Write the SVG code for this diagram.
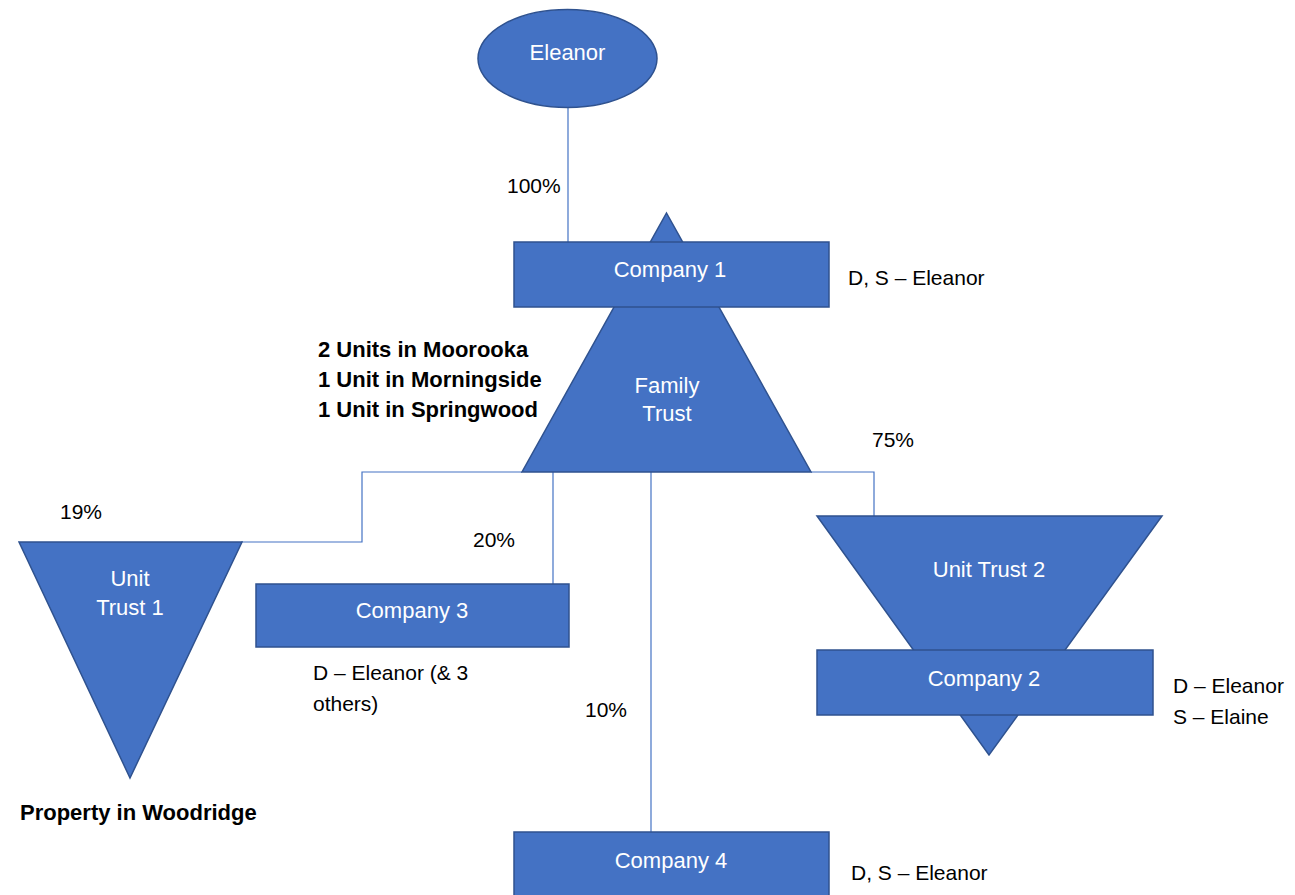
<svg xmlns="http://www.w3.org/2000/svg" width="1295" height="895" viewBox="0 0 1295 895">
<style>
.shape{fill:#4472C4;stroke:#2F528F;stroke-width:1.5}
.st{font-family:"Liberation Sans",Arial,sans-serif;font-size:22px;fill:#FFFFFF;text-anchor:middle}
.lbl{font-family:"Liberation Sans",Arial,sans-serif;font-size:21px;fill:#000000}
.bold{font-family:"Liberation Sans",Arial,sans-serif;font-size:22px;font-weight:bold;fill:#000000}
.conn{fill:none;stroke:#4472C4;stroke-width:1.2}
</style>
<rect width="1295" height="895" fill="#FFFFFF"/>
<g id="connectors">
<path class="conn" d="M568,108 V242"/>
<path class="conn" d="M522,472 H362 V542 H241"/>
<path class="conn" d="M553,472 V584"/>
<path class="conn" d="M651,472 V832"/>
<path class="conn" d="M811,472 H874 V516"/>
</g>
<g id="eleanor">
<ellipse class="shape" cx="567.5" cy="58.5" rx="89.5" ry="49"/>
<text class="st" x="567.5" y="60">Eleanor</text>
</g>
<g id="family-trust">
<polygon class="shape" points="666.5,213 811,472 522,472"/>
<text class="st" x="667" y="393">Family</text>
<text class="st" x="667" y="421">Trust</text>
</g>
<g id="company1">
<rect class="shape" x="514" y="242" width="315" height="65"/>
<text class="st" x="670" y="277">Company 1</text>
</g>
<g id="unit-trust-1">
<polygon class="shape" points="19,542 242,542 130,778"/>
<text class="st" x="130" y="586">Unit</text>
<text class="st" x="130" y="615">Trust 1</text>
</g>
<g id="company3">
<rect class="shape" x="256" y="584" width="313" height="63"/>
<text class="st" x="412" y="618">Company 3</text>
</g>
<g id="unit-trust-2">
<polygon class="shape" points="817,516 1162,516 989,755"/>
<text class="st" x="989" y="577">Unit Trust 2</text>
</g>
<g id="company2">
<rect class="shape" x="817" y="650" width="336" height="65"/>
<text class="st" x="984" y="686">Company 2</text>
</g>
<g id="company4">
<rect class="shape" x="514" y="832" width="315" height="70"/>
<text class="st" x="671" y="868">Company 4</text>
</g>
<g id="labels">
<text class="lbl" x="507" y="193">100%</text>
<text class="lbl" x="848" y="285">D, S – Eleanor</text>
<text class="lbl" x="872" y="447">75%</text>
<text class="lbl" x="60" y="519">19%</text>
<text class="lbl" x="473" y="547">20%</text>
<text class="lbl" x="313" y="680">D – Eleanor (&amp; 3</text>
<text class="lbl" x="313" y="711">others)</text>
<text class="lbl" x="585" y="717">10%</text>
<text class="lbl" x="1173" y="693">D – Eleanor</text>
<text class="lbl" x="1173" y="724">S – Elaine</text>
<text class="lbl" x="851" y="880">D, S – Eleanor</text>
<text class="bold" x="318" y="357">2 Units in Moorooka</text>
<text class="bold" x="318" y="387">1 Unit in Morningside</text>
<text class="bold" x="318" y="417">1 Unit in Springwood</text>
<text class="bold" x="20" y="820">Property in Woodridge</text>
</g>
</svg>
